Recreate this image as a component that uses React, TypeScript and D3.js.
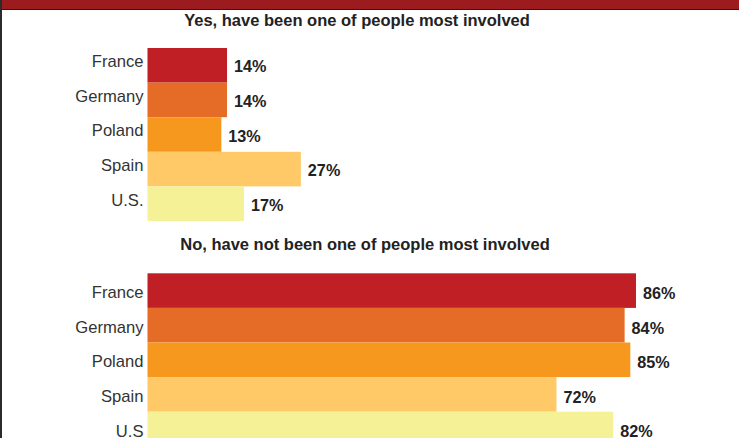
import React from "react";
import * as d3 from "d3";

const countriesYes = ["France", "Germany", "Poland", "Spain", "U.S."];
const valuesYes = [14, 14, 13, 27, 17];
const countriesNo = ["France", "Germany", "Poland", "Spain", "U.S"];
const valuesNo = [86, 84, 85, 72, 82];
const barColors = ["#c01f26", "#e56c26", "#f7981e", "#fec966", "#f5f197"];
const titleYes = "Yes, have been one of people most involved";
const titleNo = "No, have not been one of people most involved";

const W = 739;
const H = 438;
const FONT = "'Liberation Sans', Arial, Helvetica, sans-serif";

const x = d3.scaleLinear().domain([0, 100]).range([147.5, 147.5 + 568]);

function Panel({ countries, values, y0, y1, titleX, titleY, labelDy, valueDy, title }) {
  const y = d3.scaleBand<string>().domain(countries).range([y0, y1]).padding(0);
  return (
    <g>
      <text
        x={titleX}
        y={titleY}
        textAnchor="middle"
        fontFamily={FONT}
        fontWeight="bold"
        fontSize={16.5}
        fill="#222"
      >
        {title}
      </text>
      {countries.map((c, i) => {
        const yy = y(c) as number;
        const cy = yy + y.bandwidth() / 2;
        return (
          <g key={c}>
            <rect
              x={x(0)}
              y={yy}
              width={x(values[i]) - x(0)}
              height={y.bandwidth()}
              fill={barColors[i]}
            />
            <text
              x={143.5}
              y={cy + labelDy}
              textAnchor="end"
              fontFamily={FONT}
              fontSize={16.6}
              fill="#333"
            >
              {c}
            </text>
            <text
              x={x(values[i]) + 7}
              y={cy + valueDy}
              fontFamily={FONT}
              fontWeight="bold"
              fontSize={16.2}
              fill="#222"
            >
              {values[i]}%
            </text>
          </g>
        );
      })}
    </g>
  );
}

export default function App() {
  return (
    <svg
      width={W}
      height={H}
      style={{ position: "fixed", left: 0, top: 0, background: "#fff" }}
    >
      <rect x={0} y={0} width={W} height={H} fill="#fff" />
      <rect x={0} y={0} width={W} height={9} fill="#9b1b1f" />
      <rect x={0} y={9} width={W} height={1} fill="#3a1414" />
      <rect x={0} y={0} width={2} height={H} fill="#2b2b2b" />
      <Panel
        countries={countriesYes}
        values={valuesYes}
        y0={48}
        y1={221}
        titleX={357}
        titleY={26}
        labelDy={1.8}
        valueDy={7}
        title={titleYes}
      />
      <Panel
        countries={countriesNo}
        values={valuesNo}
        y0={273.3}
        y1={446.3}
        titleX={365}
        titleY={250}
        labelDy={7.5}
        valueDy={8.4}
        title={titleNo}
      />
    </svg>
  );
}
